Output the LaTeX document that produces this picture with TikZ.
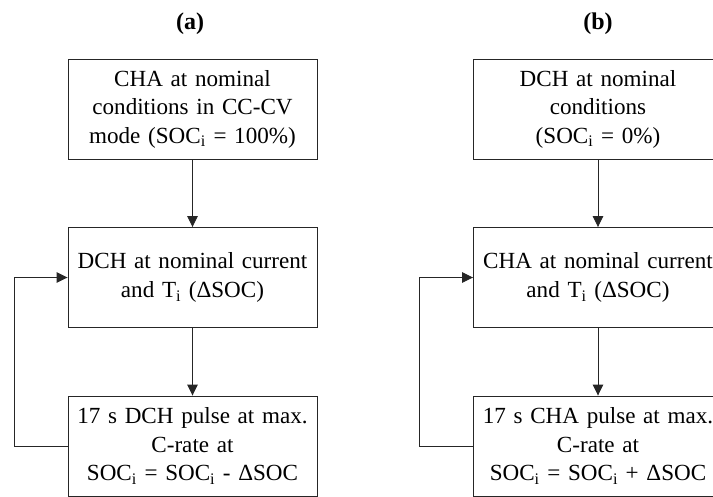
\documentclass[tikz,border=0pt]{standalone}
\usepackage{fontspec}
\setmainfont{Liberation Serif}
\usetikzlibrary{arrows.meta}
\newcommand{\sbi}{\textsubscript{i}}
\tikzset{
  stepbox/.style={draw=black!85, line width=0.9pt, minimum width=249pt, minimum height=100pt,
    inner sep=0pt, align=center, text width=245pt,
    font=\fontsize{23.1}{28.5}\selectfont},
  flow/.style={draw=black!85, line width=0.9pt, -{Triangle[length=11pt,width=10.5pt]}},
  paneltitle/.style={font=\fontsize{24}{28}\selectfont\bfseries}
}
\begin{document}
\begin{tikzpicture}[x=1pt,y=-1pt]
  \useasboundingbox (0,0) rectangle (713,496);
  \clip (0,0) rectangle (713,496);

  % panel (a): charge-sustaining test
  \node[paneltitle] (ta) at (190,24) {(a)};
  \node[stepbox] (a1) at (192.5,109) {CHA at nominal\\conditions in CC-CV\\mode (SOC\sbi{} = 100\%)};
  \node[stepbox] (a2) at (192.5,277.5) {DCH at nominal current\\and T\sbi{} (ΔSOC)};
  \node[stepbox] (a3) at (192.5,446) {17 s DCH pulse at max.\\C-rate at\\SOC\sbi{} = SOC\sbi{} - ΔSOC};
  \coordinate (la) at (14,446);
  \draw[flow] (a1) -- (a2);
  \draw[flow] (a2) -- (a3);
  \draw[flow] (a3.west) -- (la) |- (a2.west);

  % panel (b): discharge-start test
  \node[paneltitle] (tb) at (598,24) {(b)};
  \node[stepbox] (b1) at (598,109) {DCH at nominal\\conditions\\(SOC\sbi{} = 0\%)};
  \node[stepbox] (b2) at (598,277.5) {CHA at nominal current\\and T\sbi{} (ΔSOC)};
  \node[stepbox] (b3) at (598,446) {17 s CHA pulse at max.\\C-rate at\\SOC\sbi{} = SOC\sbi{} + ΔSOC};
  \coordinate (lb) at (419,446);
  \draw[flow] (b1) -- (b2);
  \draw[flow] (b2) -- (b3);
  \draw[flow] (b3.west) -- (lb) |- (b2.west);
\end{tikzpicture}
\end{document}
